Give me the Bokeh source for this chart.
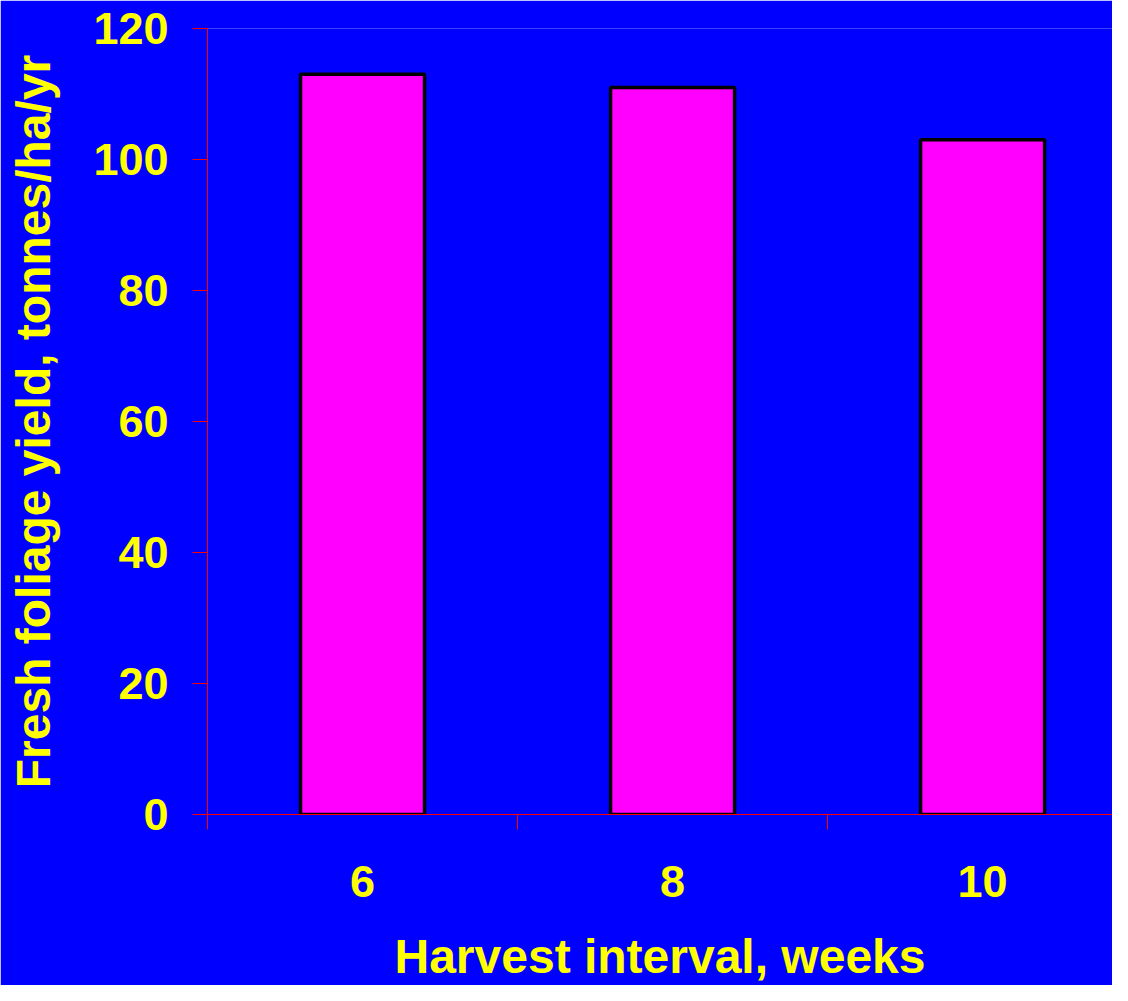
from bokeh.plotting import figure
from bokeh.models import Range1d, FixedTicker, ColumnDataSource
from bokeh.embed import file_html
from bokeh.resources import INLINE

# Data
intervals = ["6", "8", "10"]
yields = [113, 111, 103]
y_ticks = [0, 20, 40, 60, 80, 100, 120]

BLUE = "#0000FF"
MAGENTA = "#FF00FF"
YELLOW = "#FFFF00"
RED = "#FF0000"
FONT = "Liberation Sans"

centers = [i + 0.5 for i in range(len(intervals))]
bounds = [float(i) for i in range(len(intervals))]

src = ColumnDataSource(dict(x=centers, top=yields))

p = figure(width=1112, height=985, output_backend="svg", toolbar_location=None,
           x_range=Range1d(0, 2.919), y_range=Range1d(0, 120),
           min_border_left=207, min_border_top=28, min_border_right=0,
           min_border_bottom=171)
p.background_fill_color = BLUE
p.border_fill_color = BLUE
p.outline_line_color = None
p.xgrid.grid_line_color = None
p.ygrid.grid_line_color = None

p.vbar(x="x", top="top", bottom=0, width=0.4, source=src,
       fill_color=MAGENTA, line_color="black", line_width=3.5)

# X axis
xa = p.xaxis[0]
xa.ticker = FixedTicker(ticks=centers, minor_ticks=bounds)
xa.major_label_overrides = {c: lab for c, lab in zip(centers, intervals)}
xa.major_tick_line_color = None
xa.minor_tick_line_color = RED
xa.minor_tick_out = 15
xa.minor_tick_in = 0
xa.axis_line_color = RED
xa.major_label_text_color = YELLOW
xa.major_label_text_font = FONT
xa.major_label_text_font_style = "bold"
xa.major_label_text_font_size = "45px"
xa.major_label_standoff = 36
xa.axis_label = "Harvest interval, weeks"
xa.axis_label_text_color = YELLOW
xa.axis_label_text_font = FONT
xa.axis_label_text_font_style = "bold"
xa.axis_label_text_font_size = "48px"
xa.axis_label_standoff = 30

# Y axis
ya = p.yaxis[0]
ya.ticker = FixedTicker(ticks=y_ticks, minor_ticks=[])
ya.major_tick_line_color = RED
ya.major_tick_out = 15
ya.major_tick_in = 0
ya.minor_tick_line_color = None
ya.axis_line_color = RED
ya.major_label_text_color = YELLOW
ya.major_label_text_font = FONT
ya.major_label_text_font_style = "bold"
ya.major_label_text_font_size = "45px"
ya.major_label_standoff = 24
ya.axis_label = "Fresh foliage yield, tonnes/ha/yr"
ya.axis_label_text_color = YELLOW
ya.axis_label_text_font = FONT
ya.axis_label_text_font_style = "bold"
ya.axis_label_text_font_size = "48px"
ya.axis_label_standoff = 30

open("out.html", "w").write(file_html(p, INLINE))
